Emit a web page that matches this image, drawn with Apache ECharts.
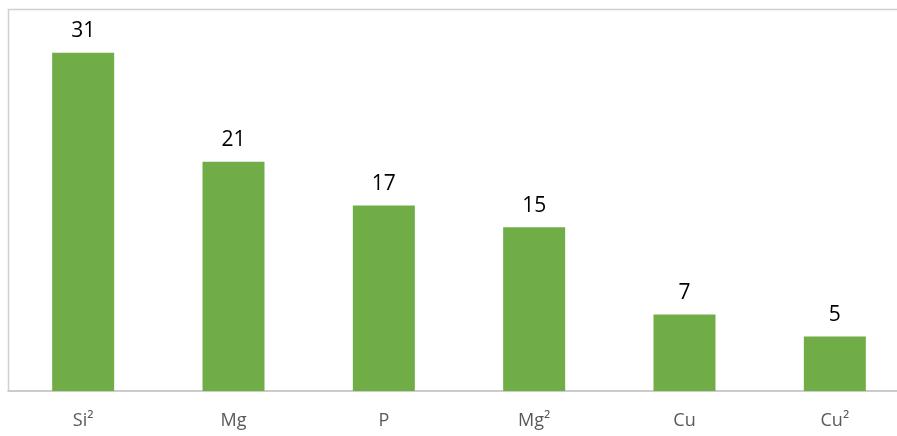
<!DOCTYPE html>
<html>
<head>
<meta charset="utf-8">
<script src="https://cdn.jsdelivr.net/npm/echarts@6/dist/echarts.min.js"></script>
<style>
  html, body { margin: 0; padding: 0; background: #fff; }
  #chart { width: 897px; height: 436px; }
</style>
</head>
<body>
<div id="chart"></div>
<script>
const categories = ['Si²', 'Mg', 'P', 'Mg²', 'Cu', 'Cu²'];
const values = [31, 21, 17, 15, 7, 5];

const chart = echarts.init(document.getElementById('chart'));

chart.setOption({
    animation: false,
    // plot frame runs off the right edge like the original
    graphic: [{
        type: 'rect', z: -1,
        shape: { x: 8.5, y: 9.5, width: 940, height: 381.5 },
        style: { fill: 'none', stroke: '#d0d0d0', lineWidth: 1.5 }
    }],
    grid: {
        left: 8, top: 9, width: 902, height: 382,
        outerBoundsMode: 'none', containLabel: false, show: false
    },
    xAxis: {
        type: 'category',
        data: categories,
        axisLine: { lineStyle: { color: '#c8c8c8', width: 1.5 } },
        axisTick: { show: false },
        axisLabel: { color: '#595959', fontSize: 18, margin: 21, fontFamily: 'Open Sans' }
    },
    yAxis: {
        type: 'value', min: 0, max: 35,
        show: false, splitLine: { show: false }
    },
    series: [{
        type: 'bar',
        data: values,
        barWidth: 62,
        itemStyle: { color: '#70ad47' },
        label: {
            show: true, position: 'top', distance: 11,
            color: '#000', fontSize: 21, fontFamily: 'Open Sans'
        }
    }]
});
</script>
</body>
</html>
